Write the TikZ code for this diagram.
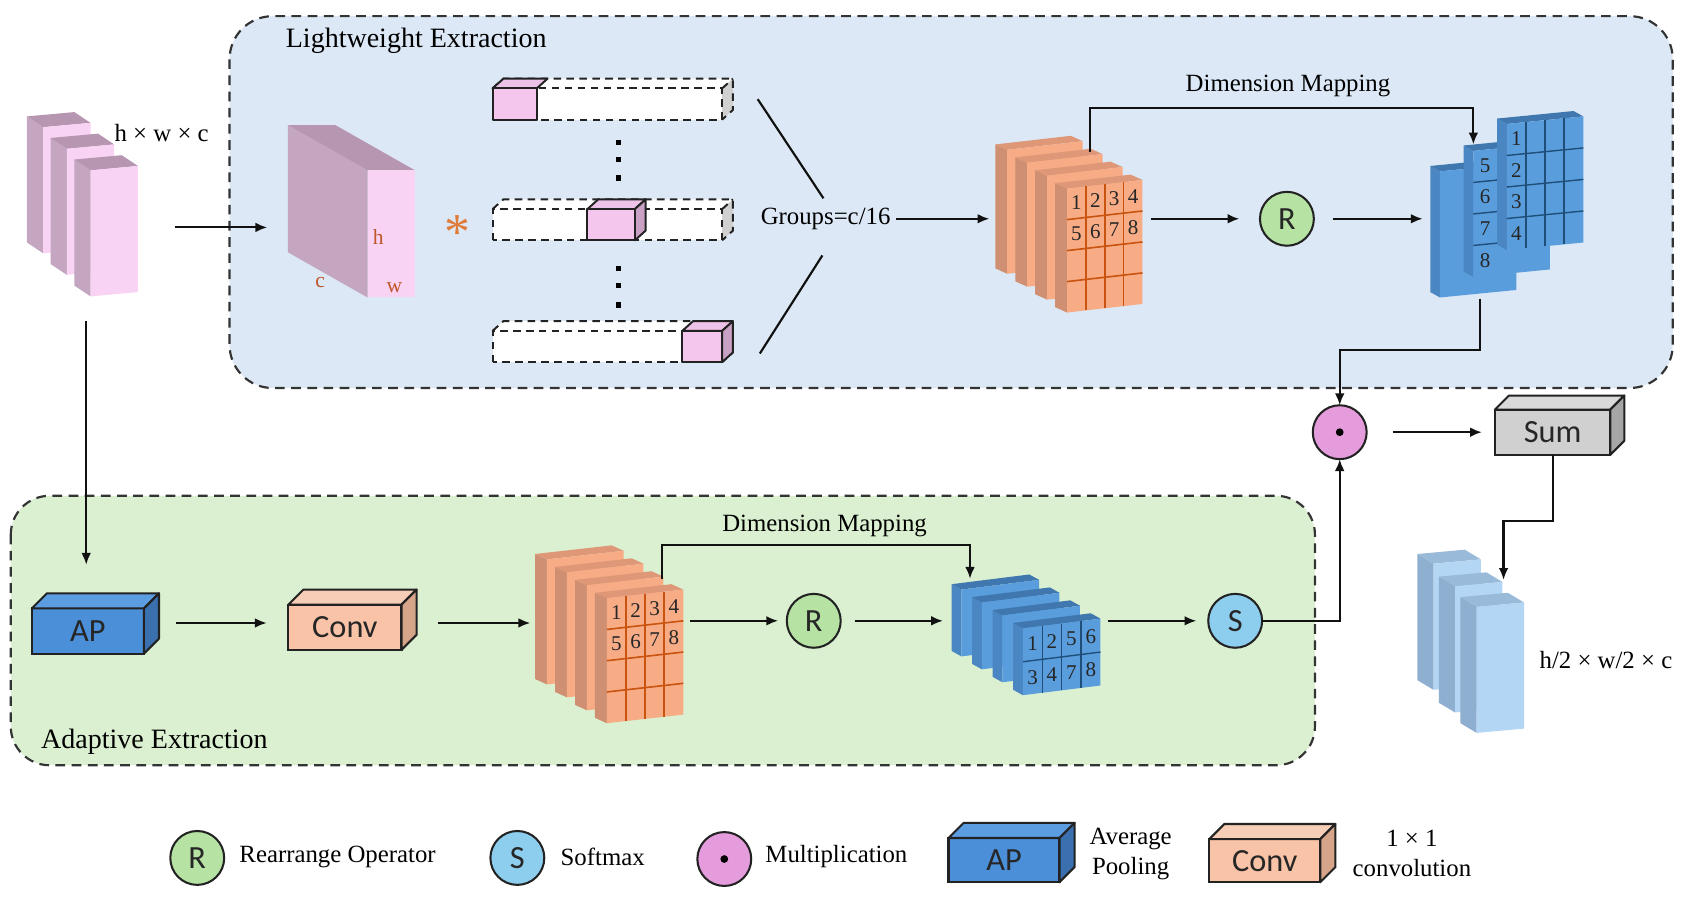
\documentclass[tikz,border=0pt]{standalone}
\usepackage{fontspec}
\setmainfont{Liberation Serif}
\newfontfamily\sansbox{Carlito}
\usetikzlibrary{arrows.meta,calc}

\definecolor{topbg}{HTML}{DCE8F5}
\definecolor{botbg}{HTML}{DAF0D0}
\definecolor{dashc}{HTML}{333333}
\definecolor{edgec}{HTML}{222222}
\definecolor{linec}{HTML}{111111}
\definecolor{pkfront}{HTML}{F9D3F3}
\definecolor{pkside}{HTML}{C4A6C1}
\definecolor{pktop}{HTML}{B696B1}
\definecolor{cbfront}{HTML}{F4C6EE}
\definecolor{cbtop}{HTML}{ECC2E8}
\definecolor{cbside}{HTML}{C9A1C4}
\definecolor{tubeside}{HTML}{D0D0D0}
\definecolor{orfront}{HTML}{F7AC86}
\definecolor{orside}{HTML}{CF8F72}
\definecolor{ortop}{HTML}{DE9878}
\definecolor{orgrid}{HTML}{C8540F}
\definecolor{blfront}{HTML}{5A9DDC}
\definecolor{blside}{HTML}{4A86C2}
\definecolor{bltop}{HTML}{3F77AE}
\definecolor{blgrid}{HTML}{1F4E79}
\definecolor{lbfront}{HTML}{B4D6F5}
\definecolor{lbside}{HTML}{8FAFD0}
\definecolor{lbtop}{HTML}{9ABAD9}
\definecolor{rfill}{HTML}{B6E3A3}
\definecolor{sfill}{HTML}{8DCDEE}
\definecolor{mfill}{HTML}{E59CDC}
\definecolor{apfront}{HTML}{4A8FD8}
\definecolor{apside}{HTML}{3A70AE}
\definecolor{aptop}{HTML}{5C9CE0}
\definecolor{cvfront}{HTML}{F8C3A6}
\definecolor{cvside}{HTML}{D6A488}
\definecolor{cvtop}{HTML}{F6CDB6}
\definecolor{smfront}{HTML}{D0D0D0}
\definecolor{smside}{HTML}{A6A6A6}
\definecolor{smtop}{HTML}{DADADA}
\definecolor{hwcol}{HTML}{C0562A}
\definecolor{astc}{HTML}{E07B39}

% slab: lower-left of front face (x,y), width, height, skew, colour prefix; depth \dl (left), \du (up)
\newcommand{\slab}[6]{%
  \fill[#6side] (#1,#2) -- (#1,#2-#4) -- (#1-\dl,#2-#4-\du) -- (#1-\dl,#2-\du) -- cycle;
  \fill[#6top] (#1,#2-#4) -- (#1+#3,#2-#4-#5) -- (#1+#3-\dl,#2-#4-#5-\du) -- (#1-\dl,#2-#4-\du) -- cycle;
  \fill[#6front] (#1,#2) -- (#1+#3,#2-#5) -- (#1+#3,#2-#4-#5) -- (#1,#2-#4) -- cycle;}

% 3d box with right side: name, cx, cy, w, h, depth, colour prefix, text
\newcommand{\tdbox}[8]{%
  \node[boxf, fill=#7front, minimum width=#4pt, minimum height=#5pt] (#1) at (#2,#3) {#8};
  \filldraw[fill=#7top, draw=edgec, line width=1.9pt, line join=round] (#1.north west) -- ++(#6,-#6) -- ([shift={(#6,-#6)}]#1.north east) -- (#1.north east) -- cycle;
  \filldraw[fill=#7side, draw=edgec, line width=1.9pt, line join=round] (#1.north east) -- ++(#6,-#6) -- ([shift={(#6,-#6)}]#1.south east) -- (#1.south east) -- cycle;}

% dashed tube: bottom y of front face
\newcommand{\tube}[1]{%
  \fill[white] (457,#1) rectangle (670,#1-29);
  \fill[white] (457,#1-29) -- (467,#1-38) -- (680,#1-38) -- (670,#1-29) -- cycle;
  \fill[tubeside] (670,#1) -- (680,#1-9) -- (680,#1-38) -- (670,#1-29) -- cycle;
  \draw[tubedash] (457,#1) rectangle (670,#1-29);
  \draw[tubedash] (457,#1-29) -- (467,#1-38) -- (680,#1-38) -- (680,#1-9) -- (670,#1);
  \draw[tubedash] (670,#1-29) -- (680,#1-38);}

\tikzset{
  lbl/.style={font=\fontsize{23}{26}\selectfont, inner sep=0pt},
  biglbl/.style={font=\fontsize{26}{28}\selectfont, inner sep=0pt, anchor=west},
  num/.style={font=\fontsize{19.5}{19.5}\selectfont, inner sep=0pt, text=black!85},
  hwl/.style={font=\fontsize{20}{20}\selectfont, inner sep=0pt, text=hwcol},
  arr/.style={draw=linec, line width=2pt, -{Latex[length=11pt,width=9pt]}},
  plainl/.style={draw=linec, line width=2pt},
  dashbox/.style={draw=dashc, line width=2pt, dash pattern=on 9pt off 6pt},
  tubedash/.style={draw=edgec, line width=1.8pt, dash pattern=on 7pt off 5pt},
  cubeline/.style={draw=edgec, line width=1.8pt, line join=round},
  opc/.style={circle, draw=edgec, line width=1.9pt, minimum size=50pt, inner sep=0pt, outer sep=0pt, font=\sansbox\fontsize{30}{30}\selectfont, text=black!85},
  boxf/.style={draw=edgec, line width=1.9pt, inner sep=0pt, outer sep=0pt, font=\sansbox\fontsize{30}{30}\selectfont, text=black!85},
  orline/.style={draw=orgrid, line width=1.5pt},
  blline/.style={draw=blgrid, line width=1.3pt},
}

\begin{document}
\begin{tikzpicture}[x=1pt,y=-1pt]
\useasboundingbox (0,0) rectangle (1568,842.4);
\fill[white] (0,0) rectangle (1568,842.4);

% ---------- group backgrounds ----------
\draw[dashbox, fill=topbg, rounded corners=40pt] (213,15) rectangle (1552,360);
\draw[dashbox, fill=botbg, rounded corners=36pt] (10,460) rectangle (1220,710);
\node[biglbl] (lwlbl) at (265,38) {Lightweight Extraction};
\node[biglbl] (adlbl) at (38,688) {Adaptive Extraction};

% ---------- input stack ----------
\def\dl{15}\def\du{10}
\slab{40}{235}{44}{117}{4}{pk}
\slab{62}{255}{44}{117}{4}{pk}
\slab{84}{275}{44}{117}{4}{pk}
\node[lbl] (hwc) at (150,123) {h × w × c};
\coordinate (pkout) at (80,298);
\coordinate (pkright) at (162,211);

% ---------- big pink kernel box ----------
\fill[pkside] (341,158) -- (341,276) -- (267,234) -- (267,116) -- cycle;
\fill[pktop] (267,116) -- (311,116) -- (385,158) -- (341,158) -- cycle;
\fill[pkfront] (341,158) rectangle (385,276);
\node[hwl] (hl) at (351,220) {h};
\node[hwl] (cl) at (297,262) {c};
\node[hwl] (wl) at (366,267) {w};
\coordinate (bigin) at (248,211);
\draw[arr] (pkright) -- (bigin);

\node[text=astc, font=\fontsize{48}{48}\selectfont, inner sep=0pt] (ast) at (424,216) {*};

% ---------- tubes ----------
\tube{111}
\tube{223}
\tube{336}
% cube 1
\filldraw[fill=cbtop, cubeline] (457,82) -- (467,73) -- (508,73) -- (498,82) -- cycle;
\filldraw[fill=cbfront, cubeline] (457,82) rectangle (498,111);
% cube 2
\filldraw[fill=cbtop, cubeline] (545,194) -- (555,185) -- (599,185) -- (589,194) -- cycle;
\filldraw[fill=cbside, cubeline] (589,194) -- (599,185) -- (599,214) -- (589,223) -- cycle;
\filldraw[fill=cbfront, cubeline] (545,194) rectangle (589,223);
% cube 3
\filldraw[fill=cbtop, cubeline] (633,307) -- (643,298) -- (680,298) -- (670,307) -- cycle;
\filldraw[fill=cbside, cubeline] (670,307) -- (680,298) -- (680,327) -- (670,336) -- cycle;
\filldraw[fill=cbfront, cubeline] (633,307) rectangle (670,336);
% dots
\foreach \yy in {132,148,165,249,265,283}
  \fill[black] (571.5,\yy-2.5) rectangle (576.5,\yy+2.5);

% ---------- groups ----------
\coordinate (t1) at (703,92);
\coordinate (t1e) at (764,184);
\coordinate (t3) at (705,328);
\coordinate (t3e) at (763,237);
\draw[plainl] (t1) -- (t1e);
\draw[plainl] (t3) -- (t3e);
\node[lbl] (grp) at (766,203) {Groups=c/16};

% ---------- top orange stack ----------
\def\dl{11}\def\du{5}
\slab{934.5}{254}{70}{115}{8}{or}
\slab{953}{266}{70}{115}{8}{or}
\slab{971.5}{278}{70}{115}{8}{or}
\slab{990}{290}{70}{115}{8}{or}
\foreach \t in {0.25,0.5,0.75}{
  \draw[orline] ({990+\t*70},{290-\t*8}) -- ({990+\t*70},{290-\t*8-115});
  \draw[orline] (990,{290-\t*115}) -- (1060,{290-8-\t*115});}
\foreach \n [count=\k from 0] in {1,...,8}{
  \pgfmathtruncatemacro\cc{mod(\k,4)}
  \pgfmathtruncatemacro\rr{floor(\k/4)}
  \node[num] at ({990+(\cc+0.5)*17.5},{290-(\cc+0.5)*2-115+(\rr+0.5)*28.75}) {\n};}
\coordinate (orTin) at (918,203);
\coordinate (orTout) at (1068,203);
\coordinate (dmTs) at (1011,141);
\draw[arr] (grp.east) ++(5,0) -- (orTin);

% R (top)
\node[opc, fill=rfill] (r1) at (1194,203) {R};
\draw[arr, shorten >=19pt] (orTout) -- (r1.west);

% ---------- top blue stack ----------
\def\dl{9}\def\du{5}
\slab{1336}{276}{71}{117}{7}{bl}
\slab{1367}{257}{71}{117}{7}{bl}
\foreach \t in {0.25,0.5,0.75}
  \draw[blline] (1367,{257-\t*117}) -- (1438,{257-7-\t*117});
\foreach \n [count=\k from 0] in {5,6,7,8}
  \node[num] at (1378,{257-1-117+(\k+0.5)*29.25}) {\n};
\slab{1398}{232}{71}{117}{7}{bl}
\foreach \t in {0.25,0.5,0.75}{
  \draw[blline] ({1398+\t*71},{232-\t*7}) -- ({1398+\t*71},{232-\t*7-117});
  \draw[blline] (1398,{232-\t*117}) -- (1469,{232-7-\t*117});}
\foreach \n [count=\k from 0] in {1,2,3,4}
  \node[num] at (1407,{232-1-117+(\k+0.5)*29.25}) {\n};
\coordinate (blTin) at (1320,203);
\coordinate (blTout) at (1373,277);
\coordinate (dmTe) at (1367,134);
\draw[arr, shorten <=18pt] (r1.east) -- (blTin);

% dimension mapping (top)
\draw[arr] (dmTs) -- ++(0,-41) -| (dmTe);
\node[lbl] (dmTl) at (1195,80) {Dimension Mapping};

% ---------- multiplication and sum ----------
\node[opc, fill=mfill] (m) at (1243,401) {};
\fill[black] (m.center) circle (3.6);
\draw[arr] (blTout) -- ++(0,48) -| (m.north);

\tdbox{sum}{1440.5}{401}{107}{42}{13}{sm}{Sum}
\draw[arr, shorten <=24pt, shorten >=12pt] (m.east) -- (sum.west);

% ---------- output stack ----------
\def\dl{15}\def\du{9}
\slab{1330}{640}{44}{117}{4}{lb}
\slab{1350}{661}{44}{117}{4}{lb}
\slab{1370}{680}{44}{117}{4}{lb}
\coordinate (lbin) at (1395,538);
\draw[arr] (sum.south) -- ++(0,61) -| (lbin);
\node[lbl] (hwc2) at (1490,612) {h/2 × w/2 × c};

% ---------- adaptive branch ----------
\tdbox{ap}{81.5}{585.5}{104}{42}{14}{ap}{AP}
\coordinate (apin) at (80,524);
\draw[arr] (pkout) -- (apin);
\tdbox{conv}{320}{582}{105}{42}{14}{cv}{Conv}
\draw[arr] ([shift={(30,-7.5)}]ap.east) -- ([shift={(-20,-4)}]conv.west);

% bottom orange stack
\def\dl{11}\def\du{5}
\slab{507.5}{635}{71}{116}{8}{or}
\slab{526}{647}{71}{116}{8}{or}
\slab{544.5}{659}{71}{116}{8}{or}
\slab{563}{671}{71}{116}{8}{or}
\foreach \t in {0.25,0.5,0.75}{
  \draw[orline] ({563+\t*71},{671-\t*8}) -- ({563+\t*71},{671-\t*8-116});
  \draw[orline] (563,{671-\t*116}) -- (634,{671-8-\t*116});}
\foreach \n [count=\k from 0] in {1,...,8}{
  \pgfmathtruncatemacro\cc{mod(\k,4)}
  \pgfmathtruncatemacro\rr{floor(\k/4)}
  \node[num] at ({563+(\cc+0.5)*17.75},{671-(\cc+0.5)*2-116+(\rr+0.5)*29}) {\n};}
\coordinate (orBin) at (492,578);
\coordinate (orBout) at (640,576);
\coordinate (dmBs) at (614,537);
\draw[arr] ([shift={(34,-4)}]conv.east) -- (orBin);

\node[opc, fill=rfill] (r2) at (755,576) {R};
\draw[arr, shorten >=8pt] (orBout) -- (r2.west);

% bottom blue stack
\def\dl{9}\def\du{5}
\slab{892}{609}{72}{62}{9}{bl}
\slab{911}{621}{72}{62}{9}{bl}
\slab{930}{633}{72}{62}{9}{bl}
\slab{949}{645}{72}{62}{9}{bl}
\foreach \t in {0.25,0.5,0.75}
  \draw[blline] ({949+\t*72},{645-\t*9}) -- ({949+\t*72},{645-\t*9-62});
\draw[blline] (949,614) -- (1021,605);
\foreach \n [count=\k from 0] in {1,2,5,6,3,4,7,8}{
  \pgfmathtruncatemacro\cc{mod(\k,4)}
  \pgfmathtruncatemacro\rr{floor(\k/4)}
  \node[num] at ({949+(\cc+0.5)*18},{645-(\cc+0.5)*2.25-62+(\rr+0.5)*31}) {\n};}
\coordinate (blBin) at (875,576);
\coordinate (blBout) at (1028,576);
\coordinate (dmBe) at (900,537);
\draw[arr, shorten <=13pt] (r2.east) -- (blBin);

\draw[arr] (dmBs) -- ++(0,-31) -| (dmBe);
\node[lbl] (dmBl) at (765,488) {Dimension Mapping};

\node[opc, fill=sfill] (s) at (1146,576) {S};
\draw[arr, shorten >=11pt] (blBout) -- (s.west);
\draw[arr] (s.east) -| (m.south);

% ---------- legend ----------
\node[opc, fill=rfill] (lgr) at (183,796) {R};
\node[lbl, anchor=west] (lgrt) at (222,795) {Rearrange Operator};
\node[opc, fill=sfill] (lgs) at (480,796) {S};
\node[lbl, anchor=west] (lgst) at (520,795) {Softmax};
\node[opc, fill=mfill] (lgm) at (672,797) {};
\fill[black] (lgm.center) circle (3.6);
\node[lbl, anchor=west] (lgmt) at (710,795) {Multiplication};
\tdbox{lgap}{931.5}{798}{103}{41}{14}{ap}{AP}
\node[lbl, align=center] (lgapt) at (1049,792) {Average\\[2pt]Pooling};
\tdbox{lgcv}{1173.5}{798.5}{103}{40}{14}{cv}{Conv}
\node[lbl, align=center] (lgcvt) at (1310,792) {1 × 1\\[2pt]convolution};

\end{tikzpicture}
\end{document}
